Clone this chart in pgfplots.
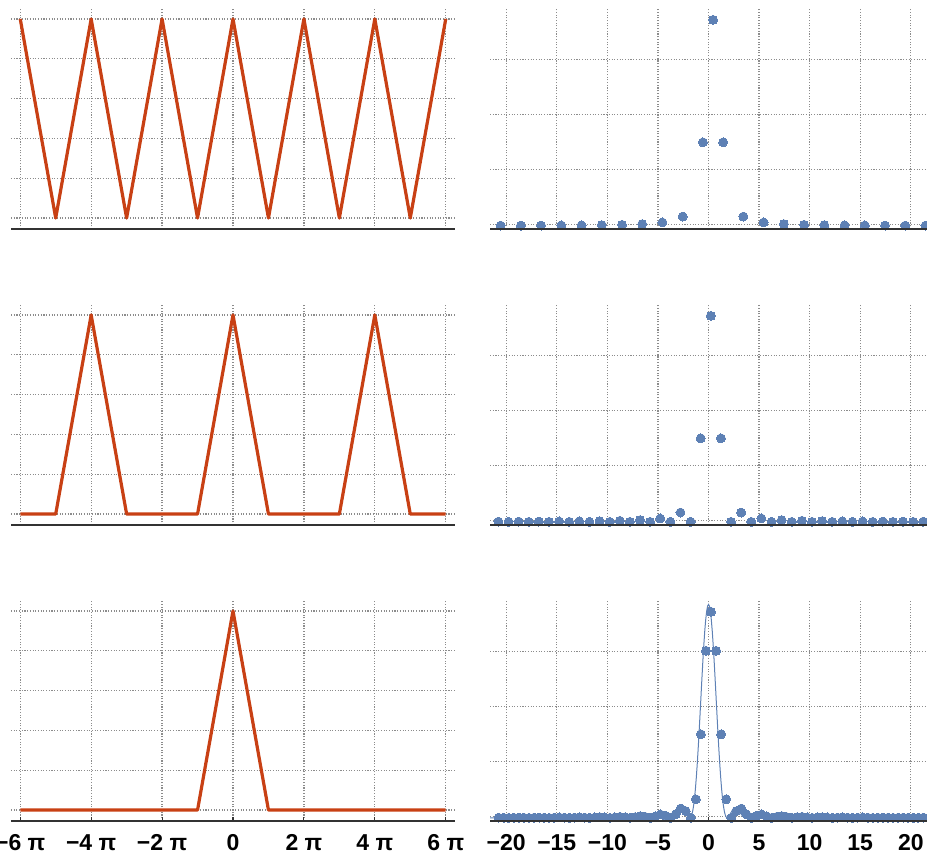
\documentclass[border=0pt]{standalone}
\usepackage{fontspec}
\setmainfont{Liberation Sans}
\usepackage{pgfplots}
\usepackage{pgfplotstable}
\pgfplotsset{compat=1.18}
\definecolor{tri}{RGB}{200,64,20}
\definecolor{dotblue}{RGB}{94,129,181}
\definecolor{gridgray}{RGB}{140,140,140}
\definecolor{axgray}{RGB}{50,50,50}

\pgfplotstableread{
x y
-20.55 0.0034
-18.55 0.0042
-16.55 0.0053
-14.55 0.0067
-12.55 0.0090
-10.55 0.0125
-8.55 0.0187
-6.55 0.0310
-4.55 0.0607
-2.55 0.1687
-0.55 1.518
0.45 3.745
1.45 1.518
3.45 0.1687
5.45 0.0607
7.45 0.0310
9.45 0.0187
11.45 0.0125
13.45 0.0090
15.45 0.0067
17.45 0.0053
19.45 0.0042
21.45 0.0034
}\topright

\pgfplotstableread{
x y
-20.77 0.0034
-19.77 0
-18.77 0.0042
-17.77 0
-16.77 0.0053
-15.77 0
-14.77 0.0067
-13.77 0
-12.77 0.0090
-11.77 0
-10.77 0.0125
-9.77 0
-8.77 0.0187
-7.77 0
-6.77 0.0310
-5.77 0
-4.77 0.0607
-3.77 0
-2.77 0.1687
-1.77 0
-0.77 1.518
0.23 3.745
1.23 1.518
2.23 0
3.23 0.1687
4.23 0
5.23 0.0607
6.23 0
7.23 0.0310
8.23 0
9.23 0.0187
10.23 0
11.23 0.0125
12.23 0
13.23 0.0090
14.23 0
15.23 0.0067
16.23 0
17.23 0.0053
18.23 0
19.23 0.0042
20.23 0
21.23 0.0034
}\midright

\pgfplotstableread{
x y
-20.75 0.0034
-20.25 0.0018
-19.75 0
-19.25 0.0020
-18.75 0.0042
-18.25 0.0022
-17.75 0
-17.25 0.0025
-16.75 0.0053
-16.25 0.0028
-15.75 0
-15.25 0.0032
-14.75 0.0067
-14.25 0.0036
-13.75 0
-13.25 0.0042
-12.75 0.0090
-12.25 0.0049
-11.75 0
-11.25 0.0057
-10.75 0.0125
-10.25 0.0069
-9.75 0
-9.25 0.0084
-8.75 0.0187
-8.25 0.0105
-7.75 0
-7.25 0.0135
-6.75 0.0310
-6.25 0.0180
-5.75 0
-5.25 0.0251
-4.75 0.0607
-4.25 0.0375
-3.75 0
-3.25 0.0620
-2.75 0.1686
-2.25 0.1214
-1.75 0
-1.25 0.3373
-0.75 1.518
-0.25 3.036
0.25 3.745
0.75 3.036
1.25 1.518
1.75 0.3373
2.25 0
2.75 0.1214
3.25 0.1686
3.75 0.0620
4.25 0
4.75 0.0375
5.25 0.0607
5.75 0.0251
6.25 0
6.75 0.0180
7.25 0.0310
7.75 0.0135
8.25 0
8.75 0.0105
9.25 0.0187
9.75 0.0084
10.25 0
10.75 0.0069
11.25 0.0125
11.75 0.0057
12.25 0
12.75 0.0049
13.25 0.0090
13.75 0.0042
14.25 0
14.75 0.0036
15.25 0.0067
15.75 0.0032
16.25 0
16.75 0.0028
17.25 0.0053
17.75 0.0025
18.25 0
18.75 0.0022
19.25 0.0042
19.75 0.0020
20.25 0
20.75 0.0018
21.25 0.0034
}\botright

\pgfplotstableread{
x y
-21.6 0
-12.95 0
-12.025 0.009
-11.1 0
-10.175 0.013
-9.25 0
-8.325 0.019
-7.40 0
-6.475 0.032
-5.55 0
-5.0875 0.026
-4.625 0.063
-4.1625 0.039
-3.70 0
-3.515 0.010
-3.33 0.042
-3.145 0.089
-2.96 0.139
-2.775 0.175
-2.59 0.181
-2.405 0.152
-2.22 0.094
-2.035 0.031
-1.85 0
-1.7575 0.011
-1.665 0.046
-1.5725 0.112
-1.48 0.212
-1.3875 0.349
-1.295 0.525
-1.2025 0.739
-1.11 0.988
-1.0175 1.268
-0.925 1.572
-0.8325 1.894
-0.74 2.222
-0.6475 2.548
-0.555 2.859
-0.4625 3.145
-0.37 3.396
-0.2775 3.601
-0.185 3.754
-0.0925 3.848
0 3.880
0.0925 3.848
0.185 3.754
0.2775 3.601
0.37 3.396
0.4625 3.145
0.555 2.859
0.6475 2.548
0.74 2.222
0.8325 1.894
0.925 1.572
1.0175 1.268
1.11 0.988
1.2025 0.739
1.295 0.525
1.3875 0.349
1.48 0.212
1.5725 0.112
1.665 0.046
1.7575 0.011
1.85 0
2.035 0.031
2.22 0.094
2.405 0.152
2.59 0.181
2.775 0.175
2.96 0.139
3.145 0.089
3.33 0.042
3.515 0.010
3.70 0
4.1625 0.039
4.625 0.063
5.0875 0.026
5.55 0
6.475 0.032
7.40 0
8.325 0.019
9.25 0
10.175 0.013
11.1 0
12.025 0.009
12.95 0
21.6 0
}\curve

\pgfplotsset{
 panel/.style={
  scale only axis, height=221pt, clip=false,
  axis line style={draw=none},
  grid=major,
  grid style={gridgray, line width=1.25pt, dash pattern=on 1.1pt off 1.6pt},
  tick align=inside, xtick pos=bottom, ytick pos=left,
  major tick length=4pt,
  major y tick style={draw=none},
  major x tick style={draw=none},
  yticklabel=\empty, xticklabel=\empty,
  after end axis/.code={\draw[axgray,line width=1.1pt] (rel axis cs:0,0) -- (rel axis cs:1,0);},
  tick label style={font=\fontsize{23}{25}\selectfont\bfseries},
  xticklabel style={anchor=base, yshift=-30pt},
 },
 leftp/.style={panel, width=444pt, xmin=-6.261, xmax=6.261, ymin=-0.055, ymax=1.055,
  xtick={-6,-4,-2,0,2,4,6}, ytick={0,0.2,0.4,0.6,0.8,1}},
 rightp/.style={panel, width=437pt, xmin=-21.6, xmax=21.6, ymin=-0.058, ymax=3.96,
  xtick={-20,-15,-10,-5,0,5,10,15,20}, ytick={0.02,1.02,2.02,3.02}},
 bottomrow/.style={major x tick style={draw=axgray, line width=1.1pt}},
 triline/.style={tri, line width=3.2pt, line join=round},
 dots/.style={only marks, color=dotblue, mark=*, mark size=4.5pt, mark options={draw=dotblue, fill=dotblue, line width=0pt}},
}

\begin{document}
\begin{tikzpicture}
% row 1
\begin{axis}[leftp, at={(11pt,628pt)}, anchor=south west]
\addplot[triline] coordinates {(-6,1)(-5,0)(-4,1)(-3,0)(-2,1)(-1,0)(0,1)(1,0)(2,1)(3,0)(4,1)(5,0)(6,1)};
\end{axis}
\begin{axis}[rightp, at={(490pt,628pt)}, anchor=south west]
\addplot[dots] table {\topright};
\end{axis}
% row 2
\begin{axis}[leftp, at={(11pt,332pt)}, anchor=south west]
\addplot[triline] coordinates {(-6,0)(-5,0)(-4,1)(-3,0)(-1,0)(0,1)(1,0)(3,0)(4,1)(5,0)(6,0)};
\end{axis}
\begin{axis}[rightp, at={(490pt,332pt)}, anchor=south west]
\addplot[dots] table {\midright};
\end{axis}
% row 3
\begin{axis}[leftp, bottomrow, at={(11pt,36pt)}, anchor=south west,
  xticklabels={−6 π,−4 π,−2 π,0,2 π,4 π,6 π}]
\addplot[triline] coordinates {(-6,0)(-1,0)(0,1)(1,0)(6,0)};
\end{axis}
\begin{axis}[rightp, bottomrow, at={(490pt,36pt)}, anchor=south west,
  xticklabels={−20,−15,−10,−5,0,5,10,15,20}]
\addplot[dotblue, line width=1pt] table {\curve};
\addplot[dots] table {\botright};
\end{axis}
\pgfresetboundingbox
\useasboundingbox (0pt,0pt) rectangle (927pt,857pt);
\end{tikzpicture}
\end{document}
